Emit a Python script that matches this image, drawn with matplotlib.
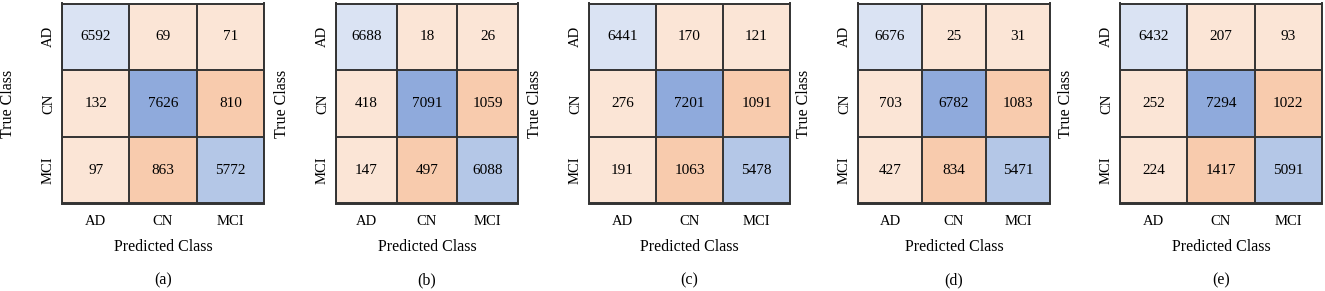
import numpy as np
import matplotlib
matplotlib.use("Agg")
import matplotlib.pyplot as plt
from matplotlib.colors import ListedColormap

classes = ["AD", "CN", "MCI"]
panel_labels = ["(a)", "(b)", "(c)", "(d)", "(e)"]

cm_a = [[6592, 69, 71], [132, 7626, 810], [97, 863, 5772]]
cm_b = [[6688, 18, 26], [418, 7091, 1059], [147, 497, 6088]]
cm_c = [[6441, 170, 121], [276, 7201, 1091], [191, 1063, 5478]]
cm_d = [[6676, 25, 31], [703, 6782, 1083], [427, 834, 5471]]
cm_e = [[6432, 207, 93], [252, 7294, 1022], [224, 1417, 5091]]
matrices = [cm_a, cm_b, cm_c, cm_d, cm_e]

# cell shading (style): index into palette
shade = np.array([[0, 3, 3], [3, 2, 4], [3, 4, 1]])
palette = ListedColormap(["#DAE3F3", "#B4C7E7", "#8FAADC", "#FBE5D6", "#F8CBAD"])

W, H = 1325, 291
fig = plt.figure(figsize=(W / 100, H / 100), dpi=100)
plt.rcParams["font.family"] = ["Liberation Serif", "DejaVu Serif"]

# panel grid extents in pixels (left, right)
extents = [(62, 264), (336, 518), (589, 790), (858, 1050), (1120, 1322)]
top_px, bot_px = 3.5, 203.5
edge = "#333333"

for m, lab, (l, r) in zip(matrices, panel_labels, extents):
    ax = fig.add_axes([l / W, 1 - bot_px / H, (r - l) / W, (bot_px - top_px) / H])
    data = np.array(m)
    ax.imshow(shade, cmap=palette, vmin=-0.5, vmax=4.5, aspect="auto",
              interpolation="nearest")
    for i in range(3):
        for j in range(3):
            ax.text(j, i, str(data[i, j]), ha="center", va="center", fontsize=11)
    for k in range(4):
        ax.axhline(k - 0.5, color=edge, lw=1.4)
        ax.axvline(k - 0.5, color=edge, lw=1.4)
    for s in ax.spines.values():
        s.set_color(edge)
        s.set_linewidth(1.4)
    ax.set_xticks(range(3))
    ax.set_xticklabels(classes, fontsize=10.5)
    ax.set_yticks(range(3))
    ax.set_yticklabels(classes, fontsize=10.5, rotation=90, va="center")
    ax.tick_params(axis="x", length=0, pad=8)
    ax.tick_params(axis="y", length=0, pad=5)
    ax.set_xlim(-0.5, 2.5)
    ax.set_ylim(2.5, -0.5)
    cx = (l + r) / 2 / W
    fig.text(cx, 1 - 247 / H, "Predicted Class", ha="center", va="center", fontsize=11.5)
    fig.text(cx, 1 - 280 / H, lab, ha="center", va="center", fontsize=11.5)
    fig.text((l - 54) / W, 1 - (top_px + bot_px) / 2 / H, "True Class",
             ha="center", va="center", rotation=90, fontsize=11.5)

fig.savefig("out.png", dpi=100)
